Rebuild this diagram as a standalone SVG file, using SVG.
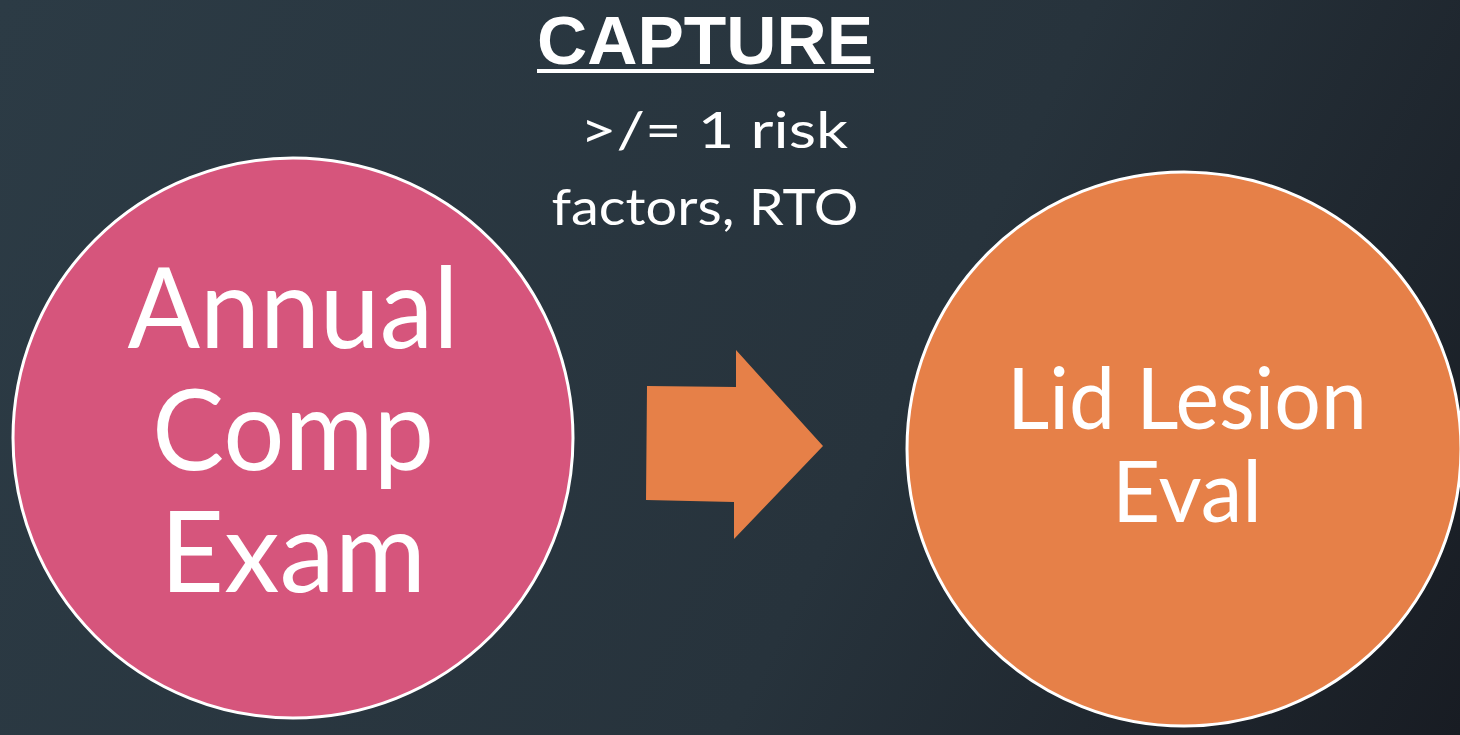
<svg xmlns="http://www.w3.org/2000/svg" width="1460" height="735" viewBox="0 0 1460 735">
<defs>
<linearGradient id="bg" x1="0" y1="0" x2="1460" y2="735" gradientUnits="userSpaceOnUse">
<stop offset="0" stop-color="#2c3b45"/>
<stop offset="0.6" stop-color="#27333c"/>
<stop offset="1" stop-color="#181c23"/>
</linearGradient>
<style>
.t{font-family:Lato,"Noto Sans","Liberation Sans",sans-serif;fill:#fff;text-anchor:middle}
.node{stroke:#fff;stroke-width:3}
</style>
</defs>
<rect width="1460" height="735" fill="url(#bg)"/>
<g id="label">
<text x="705" y="64" font-family="'Liberation Sans',Arial,sans-serif" font-size="68" font-weight="bold" fill="#fff" text-anchor="middle" textLength="336" lengthAdjust="spacingAndGlyphs">CAPTURE</text>
<rect x="537" y="69" width="337" height="4" fill="#fff"/>
<text class="t" x="714" y="148" font-size="50" textLength="268" lengthAdjust="spacingAndGlyphs">&gt;/= 1 risk</text>
<text class="t" x="705" y="225" font-size="50" textLength="307" lengthAdjust="spacingAndGlyphs">factors, RTO</text>
</g>
<g id="node-annual">
<circle class="node" cx="293" cy="438" r="280" fill="#d6557c"/>
<text class="t" x="293" y="348" font-size="112" textLength="331" lengthAdjust="spacingAndGlyphs">Annual</text>
<text class="t" x="293" y="470" font-size="112" textLength="282" lengthAdjust="spacingAndGlyphs">Comp</text>
<text class="t" x="293" y="592" font-size="112" textLength="266" lengthAdjust="spacingAndGlyphs">Exam</text>
</g>
<g id="node-lid">
<circle class="node" cx="1184" cy="449" r="277" fill="#e68048"/>
<text class="t" x="1187" y="429" font-size="86" textLength="360" lengthAdjust="spacingAndGlyphs">Lid Lesion</text>
<text class="t" x="1187" y="522" font-size="86" textLength="150" lengthAdjust="spacingAndGlyphs">Eval</text>
</g>
<g id="connectors">
<polygon points="647,386 736,387 736,350 823,446 734,539 734,502 646,500" fill="#e68048"/>
</g>
</svg>
